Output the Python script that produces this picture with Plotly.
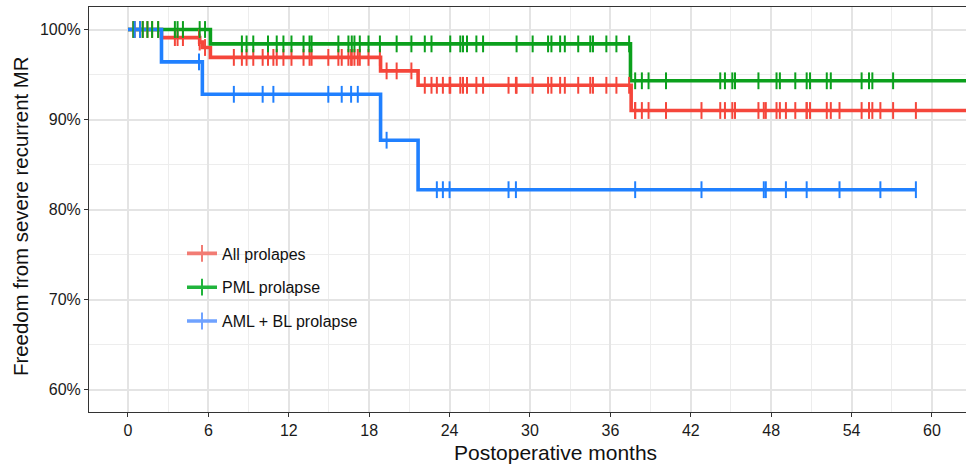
import plotly.graph_objects as go

# ---------------- data ----------------
series_names = ["All prolapes", "PML prolapse", "AML + BL prolapse"]

# Kaplan-Meier step values (time in months, survival as fraction)
all_times = [0, 2.5, 5.35, 5.55, 6.15, 18.85, 21.65, 37.55]
all_surv = [1.0, 0.991, 0.986, 0.980, 0.969, 0.954, 0.938, 0.910]
all_end = 64.0

pml_times = [0, 6.15, 37.5]
pml_surv = [1.0, 0.984, 0.943]
pml_end = 64.0

aml_times = [0, 2.5, 5.55, 18.85, 21.65]
aml_surv = [1.0, 0.964, 0.928, 0.877, 0.822]
aml_end = 58.8

# censoring times (months)
pml_censor = [0.4, 1.1, 1.45, 1.8, 2.25, 3.5, 3.7, 4.1, 5.35, 5.75,
              8.5, 8.85, 9.35, 10.45, 11.1, 11.6, 12.2, 13.1, 13.55, 13.7,
              15.7, 16.45, 16.7, 16.9, 17.3, 17.95, 18.8, 20.05, 21.15, 22.15,
              22.65, 24.05, 24.8, 25.0, 25.3, 26.0, 26.5, 29.0, 30.2, 31.35,
              31.6, 32.25, 32.6, 33.6, 34.5, 34.7, 35.7, 36.45, 37.4,
              37.85, 38.35, 38.85, 40.15, 44.2, 44.55, 45.1, 45.3, 47.05,
              48.4, 48.65, 49.8, 50.65, 50.9, 52.15, 52.45, 54.75, 55.3,
              55.55, 57.1]
aml_censor = [0.5, 0.9, 5.3, 7.9, 10.05, 10.85, 14.95, 15.95, 16.65, 17.15,
              19.3, 23.05, 23.5, 24.0, 28.4, 28.95, 37.85, 42.8, 47.45, 47.6,
              49.1, 50.65, 53.1, 56.15, 58.8]
all_censor = sorted(pml_censor + aml_censor)

x_ticks = [0, 6, 12, 18, 24, 30, 36, 42, 48, 54, 60]
y_ticks = [0.6, 0.7, 0.8, 0.9, 1.0]

x_title = "Postoperative months"
y_title = "Freedom from severe recurrent MR"

line_colors = ["#F5463B", "#0BA01C", "#2080FF"]
key_colors = ["#F27C74", "#20B43C", "#6FA2FF"]

FONT = "Liberation Sans, Arial, Helvetica, sans-serif"

# layout geometry (pixels)
W, H = 966, 467
ML, MR, MT, MB = 89, 0, 7, 55
PW, PH = W - ML - MR, H - MT - MB


def px_x(px):
    return (px - ML) / PW


def px_y(py):
    return (H - MB - py) / PH


def step_value(times, surv, t):
    v = surv[0]
    for ti, si in zip(times, surv):
        if t >= ti:
            v = si
    return v


groups = [
    (all_times, all_surv, all_end, all_censor),
    (pml_times, pml_surv, pml_end, pml_censor),
    (aml_times, aml_surv, aml_end, aml_censor),
]

fig = go.Figure()

for i, (times, surv, end, cens) in enumerate(groups):
    fig.add_trace(go.Scatter(
        x=list(times) + [end], y=list(surv) + [surv[-1]],
        mode="lines", line=dict(color=line_colors[i], width=3.6, shape="hv"),
        showlegend=False, hoverinfo="skip"))
for i, (times, surv, end, cens) in enumerate(groups):
    fig.add_trace(go.Scatter(
        x=cens, y=[step_value(times, surv, t) for t in cens],
        mode="markers",
        marker=dict(symbol="line-ns", size=12,
                    line=dict(color=line_colors[i], width=2)),
        showlegend=False, hoverinfo="skip"))

# legend keys
for i, name in enumerate(series_names):
    fig.add_trace(go.Scatter(
        x=[None], y=[None], name=name, legendgroup=name,
        mode="lines+markers",
        line=dict(color=key_colors[i], width=3.6),
        marker=dict(symbol="line-ns", size=12,
                    line=dict(color=key_colors[i], width=2))))

# white legend background box
fig.add_shape(type="rect", xref="paper", yref="paper",
              x0=px_x(168), x1=px_x(370), y0=px_y(347), y1=px_y(223),
              fillcolor="white", line=dict(width=0), layer="between")

axis_common = dict(
    showline=True, linecolor="#333333", linewidth=1,
    ticks="outside", ticklen=4, tickcolor="#333333", tickwidth=1,
    showgrid=True, gridcolor="#E4E4E4", gridwidth=1.7,
    zeroline=False,
    tickfont=dict(family=FONT, size=16, color="#1a1a1a"),
)

fig.update_layout(
    width=W, height=H,
    margin=dict(l=ML, r=MR, t=MT, b=MB),
    paper_bgcolor="white", plot_bgcolor="white",
    font=dict(family=FONT, color="#111111"),
    xaxis=dict(
        range=[-2.91, 62.54], tickvals=x_ticks,
        ticktext=[str(v) for v in x_ticks], mirror=True,
        minor=dict(dtick=3, tick0=0, showgrid=True, gridcolor="#EDEDED",
                   gridwidth=0.9, ticks=""),
        **axis_common),
    yaxis=dict(
        range=[0.575, 1.025], tickvals=y_ticks, tickformat=".0%",
        mirror=False,
        minor=dict(dtick=0.05, tick0=0.6, showgrid=True, gridcolor="#EDEDED",
                   gridwidth=0.9, ticks=""),
        **axis_common),
    legend=dict(
        x=px_x(182), xanchor="left",
        y=px_y(287.5), yanchor="middle",
        bgcolor="rgba(0,0,0,0)", borderwidth=0,
        tracegroupgap=10,
        font=dict(family=FONT, size=16, color="#111111"),
    ),
    annotations=[
        dict(text=x_title, xref="paper", yref="paper",
             x=px_x(555), y=px_y(452), xanchor="center", yanchor="middle",
             showarrow=False,
             font=dict(family=FONT, size=21, color="#111111")),
        dict(text=y_title, xref="paper", yref="paper",
             x=px_x(21), y=px_y(216), xanchor="center", yanchor="middle",
             textangle=-90, showarrow=False,
             font=dict(family=FONT, size=20.4, color="#111111")),
    ],
)

fig.write_html(
    "out.html",
    config={"displayModeBar": False},
    post_script="document.body.style.margin='0px';"
                "document.body.style.overflow='hidden';",
)
